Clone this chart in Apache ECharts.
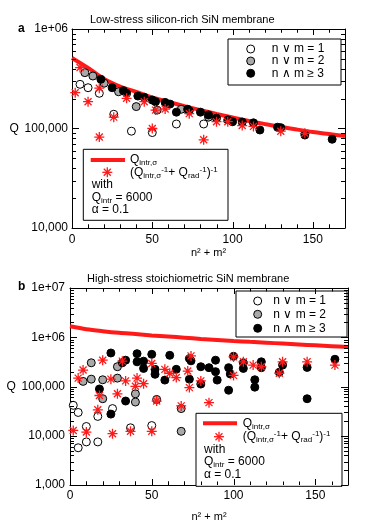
<!DOCTYPE html>
<html><head><meta charset="utf-8">
<script src="https://cdn.jsdelivr.net/npm/echarts@6/dist/echarts.min.js"></script>
<style>html,body{margin:0;padding:0;background:#fff}#c{width:366px;height:523px}</style>
</head><body><div id="c"></div>
<script>
// ---------- data (x = n^2 + m^2, y = Q) ----------
const X_MAJOR = [0, 50, 100, 150];
const X_MINOR = [10, 20, 30, 40, 60, 70, 80, 90, 110, 120, 130, 140, 160];
const Y_TOP_TICKS = [1e4, 1e5, 1e6];
const Y_TOP_LABELS = ['10,000', '100,000', '1e+06'];
const Y_BOT_TICKS = [1e3, 1e4, 1e5, 1e6, 1e7];
const Y_BOT_LABELS = ['1,000', '10,000', '100,000', '1e+06', '1e+07'];
const MINOR_MULT = [2, 3, 4, 5, 6, 7, 8, 9];

const topCurve = [[0,512000],[10,406000],[20,314000],[30,264000],[40,233000],[50,205000],[60,185000],[70,168000],[80,153000],[90,140000],[100,129000],[110,119000],[120,111000],[130,104000],[140,97700],[150,92200],[160,88000],[170,84000]];
const topOpen = [[5,278000],[10,257000],[17,226000],[26,139000],[37,94000],[50,91000],[65,111000],[82,111000]];
const topGray = [[8,364000],[13,337000],[20,285000],[29,234000],[40,166000],[53,153000],[68,156000],[85,130000]];
const topBlack = [[18,312000],[25,257000],[32,240000],[34,226000],[41,212000],[45,206000],[50,193000],[52,186000],[58,183000],[61,176000],[65,146000],[72,156000],[73,151000],[80,146000],[85,137000],[90,127000],[97,122000],[100,117000],[106,116000],[113,114000],[117,96600],[128,103000],[130,102000],[145,86000],[162,78000]];
const topStar = [[2,229000],[5,410000],[10,186000],[17,254000],[17,82000],[26,130000],[34,201000],[45,186000],[50,100000],[52,153000],[58,157000],[73,141000],[82,77000],[90,117000],[97,117000],[106,107000],[113,105000],[130,94000],[145,89500]];

const botCurve = [[0,1670000],[10,1460000],[20,1330000],[30,1230000],[40,1160000],[50,1090000],[60,1035000],[70,980000],[80,923000],[90,881000],[100,842000],[110,807000],[120,776000],[130,744000],[140,714000],[150,685000],[160,658000],[170,631000]];
const botOpen = [[2,41500],[5,29700],[17,24700],[26,35600],[10,15400],[37,14500],[50,16100],[10,7500],[5,5700],[17,7500]];
const botGray = [[13,303000],[8,127000],[13,141000],[20,137000],[29,252000],[29,148000],[20,56400],[40,71000],[40,48400],[53,54600],[68,35600],[68,12300]];
const botBlack = [[25,479000],[32,303000],[34,342000],[41,464000],[41,317000],[45,327000],[45,233000],[50,450000],[52,223000],[52,177000],[58,135000],[61,430000],[65,223000],[73,141000],[73,369000],[74,332000],[80,252000],[80,112000],[18,89000],[34,50700],[25,27500],[97,84000],[113,97000],[113,137000],[145,56400],[89,342000],[85,241000],[89,200000],[90,135000],[97,241000],[98,180000],[100,410000],[106,303000],[106,233000],[117,317000],[117,241000],[130,272000],[128,194000],[145,244000],[162,357000]];
const botStar = [[20,342000],[8,216000],[5,148000],[25,141000],[34,130000],[41,148000],[40,101000],[45,114000],[32,327000],[50,294000],[58,223000],[61,186000],[65,152000],[72,206000],[73,95000],[74,418000],[80,130000],[18,65600],[29,71000],[53,50700],[17,33600],[68,40400],[2,12800],[10,11900],[26,11000],[37,12300],[50,12300],[85,47000],[100,399000],[106,317000],[112,272000],[117,252000],[130,317000],[128,186000],[145,317000],[162,272000],[100,168000]];

// ---------- styling ----------
const FF = 'Liberation Sans, Arial, sans-serif';
const BLACK = '#000';
const RED = '#ff1a1a';
const GRAY = '#a9a9a9';
const STAR = 'path://M5,0L5,10M0,5L10,5M1.5,1.5L8.5,8.5M1.5,8.5L8.5,1.5';
const X_MIN = 0, X_MAX = 170;

function minorOf(ticks) {
  const out = [];
  for (let i = 0; i < ticks.length - 1; i++) MINOR_MULT.forEach(m => out.push(ticks[i] * m));
  return out;
}

function xAxes(grid, nameGap, margin) {
  const base = { gridIndex: grid, type: 'value', min: X_MIN, max: X_MAX, interval: 50, splitLine: { show: false }, axisTick: { show: false } };
  const line = { show: true, onZero: false, lineStyle: { color: BLACK, width: 1 } };
  return [
    Object.assign({}, base, { position: 'bottom', axisLine: line,
      axisLabel: { showMaxLabel: false, margin: margin, color: BLACK, fontSize: 12, fontFamily: FF,
        formatter: v => (X_MAJOR.indexOf(v) >= 0 ? String(v) : '') },
      name: 'n² + m²', nameLocation: 'middle', nameGap: nameGap,
      nameTextStyle: { color: BLACK, fontSize: 11, fontFamily: FF } }),
    Object.assign({}, base, { position: 'top', axisLine: line, axisLabel: { show: false } })
  ];
}

function yAxes(grid, min, max, ticks, labels, nameGap, margin) {
  const base = { gridIndex: grid, type: 'log', logBase: 10, min: min, max: max, splitLine: { show: false }, axisTick: { show: false } };
  const line = { show: true, onZero: false, lineStyle: { color: BLACK, width: 1 } };
  return [
    Object.assign({}, base, { position: 'left', axisLine: line,
      axisLabel: { margin: margin, color: BLACK, fontSize: 12, fontFamily: FF,
        formatter: v => { const i = ticks.findIndex(t => Math.abs(t - v) / t < 1e-6); return i >= 0 ? labels[i] : ''; } },
      name: 'Q', nameLocation: 'middle', nameRotate: 0, nameGap: nameGap,
      nameTextStyle: { color: BLACK, fontSize: 12, fontFamily: FF } }),
    Object.assign({}, base, { position: 'right', axisLine: line, axisLabel: { show: false } })
  ];
}

// tick list: [x, y, dx, dy] (base point in data units, direction in px)
function tickData(yMin, yMax, yTicks) {
  const data = [];
  X_MAJOR.forEach(v => { data.push([v, yMin, 0, -6]); data.push([v, yMax, 0, 6]); });
  X_MINOR.forEach(v => { data.push([v, yMin, 0, -3.5]); data.push([v, yMax, 0, 3.5]); });
  yTicks.forEach(v => { data.push([X_MIN, v, 7, 0]); data.push([X_MAX, v, -7, 0]); });
  minorOf(yTicks).forEach(v => { data.push([X_MIN, v, 4, 0]); data.push([X_MAX, v, -4, 0]); });
  return data;
}
function tickSeries(xi, yi, yMin, yMax, yTicks) {
  return {
    type: 'custom', xAxisIndex: xi, yAxisIndex: yi, data: tickData(yMin, yMax, yTicks), silent: true, z: 6, clip: false,
    renderItem: (params, api) => {
      const c = api.coord([api.value(0), api.value(1)]);
      const dx = api.value(2), dy = api.value(3);
      const x = Math.round(c[0]) + (dx === 0 ? 0.5 : 0);
      const y = Math.round(c[1]) + (dy === 0 ? 0.5 : 0);
      return { type: 'line', shape: { x1: x, y1: y, x2: x + dx, y2: y + dy }, style: { stroke: '#000', lineWidth: 1 } };
    }
  };
}

function panelSeries(xi, yi, curve, open, gray, black, star) {
  const sc = (data, fill) => ({ type: 'scatter', xAxisIndex: xi, yAxisIndex: yi, data: data, symbol: 'circle', symbolSize: 8,
    itemStyle: { color: fill, borderColor: BLACK, borderWidth: 1, opacity: 1 }, z: 3, emphasis: { disabled: true } });
  return [
    { type: 'line', xAxisIndex: xi, yAxisIndex: yi, data: curve, smooth: 0.3, showSymbol: false,
      lineStyle: { color: RED, width: 4 }, z: 2, silent: true },
    sc(open, '#fff'), sc(gray, GRAY), sc(black, BLACK),
    { type: 'scatter', xAxisIndex: xi, yAxisIndex: yi, data: star, symbol: STAR, symbolSize: 10,
      itemStyle: { color: 'transparent', borderColor: RED, borderWidth: 1.3, opacity: 1 }, z: 4, emphasis: { disabled: true } }
  ];
}

// ---------- legends (graphic) ----------
const rich = {
  n: { fontSize: 12, fontFamily: FF, fill: BLACK, lineHeight: 14 },
  sub: { fontSize: 8, fontFamily: FF, fill: BLACK, lineHeight: 8, verticalAlign: 'bottom' },
  sup: { fontSize: 8, fontFamily: FF, fill: BLACK, lineHeight: 8, verticalAlign: 'top' }
};
function txt(x, y, text, isRich) {
  const st = { text: text, x: x, y: y, fill: BLACK, font: '12px ' + FF, verticalAlign: 'middle', align: 'left' };
  if (isRich) st.rich = rich;
  return { type: 'text', style: st, z: 20 };
}
function starGlyph(cx, cy) {
  const segs = [[0, -5, 0, 5], [-5, 0, 5, 0], [-3.5, -3.5, 3.5, 3.5], [-3.5, 3.5, 3.5, -3.5]];
  return segs.map(s => ({ type: 'line', shape: { x1: cx + s[0], y1: cy + s[1], x2: cx + s[2], y2: cy + s[3] },
    style: { stroke: RED, lineWidth: 1.3 }, z: 20 }));
}
function symLegend(x, y, w, h, cx, ys, tx) {
  const fills = ['#fff', GRAY, BLACK];
  const labels = ['n ∨ m = 1', 'n ∨ m = 2', 'n ∧ m ≥ 3'];
  const els = [{ type: 'rect', shape: { x: x, y: y, width: w, height: h }, style: { fill: '#fff', stroke: BLACK, lineWidth: 1 }, z: 10 }];
  ys.forEach((yy, i) => {
    els.push({ type: 'circle', shape: { cx: cx, cy: yy, r: 4 }, style: { fill: fills[i], stroke: BLACK, lineWidth: 1 }, z: 20 });
    els.push(txt(tx, yy, labels[i], false));
  });
  return els;
}
function formulaLegend(x, y, w, h, lx1, lx2, ly, sx, sy, tx, wx, wy) {
  return [
    { type: 'rect', shape: { x: x, y: y, width: w, height: h }, style: { fill: '#fff', stroke: BLACK, lineWidth: 1 }, z: 10 },
    { type: 'line', shape: { x1: lx1, y1: ly, x2: lx2, y2: ly }, style: { stroke: RED, lineWidth: 4 }, z: 20 },
    txt(tx, ly, '{n|Q}{sub|intr,σ}', true),
    txt(tx, sy, '{n|(Q}{sub|intr,σ}{sup|-1}{n|+ Q}{sub|rad}{sup|-1}{n|)}{sup|-1}', true),
    txt(wx, wy[0], 'with', false),
    txt(wx, wy[1], '{n|Q}{sub|intr}{n| = 6000}', true),
    txt(wx, wy[2], 'α = 0.1', false)
  ].concat(starGlyph(sx, sy));
}

const legendGraphics = [].concat(
  symLegend(228, 39, 113, 46, 250.7, [49, 61, 73.3], 271.7),
  symLegend(236, 291, 111, 46, 257.7, [301, 314.3, 328.3], 273.3),
  formulaLegend(83.3, 149.3, 144.7, 71, 90.7, 125, 160, 107.3, 172.3, 130, 91.7, [184.3, 197.3, 209.8]),
  formulaLegend(196, 413.3, 146, 73, 203, 237, 423.3, 219, 436.7, 242.7, 204, [449.3, 461.7, 475])
);

const option = {
  animation: false,
  textStyle: { fontFamily: FF },
  title: [
    { text: 'Low-stress silicon-rich SiN membrane', left: 85, top: 9, textStyle: { fontSize: 11, fontWeight: 'normal', color: BLACK, fontFamily: FF } },
    { text: 'High-stress stoichiometric SiN membrane', left: 82, top: 268, textStyle: { fontSize: 11, fontWeight: 'normal', color: BLACK, fontFamily: FF } },
    { text: 'a', left: 13, top: 18, textStyle: { fontSize: 12, fontWeight: 'bold', color: BLACK, fontFamily: FF } },
    { text: 'b', left: 13, top: 276, textStyle: { fontSize: 12, fontWeight: 'bold', color: BLACK, fontFamily: FF } }
  ],
  grid: [
    { left: 72, top: 29, width: 273, height: 199 },
    { left: 70, top: 288, width: 278, height: 201 }
  ],
  xAxis: xAxes(0, 19, 6).concat(xAxes(1, 26, 5)),
  yAxis: yAxes(0, 1e4, 1e6, Y_TOP_TICKS, Y_TOP_LABELS, 40, 4).concat(yAxes(1, 1e3, 1e7, Y_BOT_TICKS, Y_BOT_LABELS, 38, 5)),
  series: [tickSeries(0, 0, 1e4, 1e6, Y_TOP_TICKS), tickSeries(2, 2, 1e3, 1e7, Y_BOT_TICKS)]
    .concat(panelSeries(0, 0, topCurve, topOpen, topGray, topBlack, topStar))
    .concat(panelSeries(2, 2, botCurve, botOpen, botGray, botBlack, botStar)),
  graphic: legendGraphics
};
const chart = echarts.init(document.getElementById('c'), null, { renderer: 'canvas' });
chart.setOption(option);

// second pass: tick marks as graphics placed through the axes' own scales (backup for the custom series)
function tickGraphics(xi, yi, yMin, yMax, yTicks) {
  const els = [];
  tickData(yMin, yMax, yTicks).forEach(t => {
    const p = chart.convertToPixel({ xAxisIndex: xi, yAxisIndex: yi }, [t[0], t[1]]);
    if (!p || !isFinite(p[0]) || !isFinite(p[1])) return;
    const x = Math.round(p[0]) + (t[2] === 0 ? 0.5 : 0);
    const y = Math.round(p[1]) + (t[3] === 0 ? 0.5 : 0);
    els.push({ type: 'line', silent: true, shape: { x1: x, y1: y, x2: x + t[2], y2: y + t[3] }, style: { stroke: '#000', lineWidth: 1 }, z: 25 });
  });
  return els;
}
try {
  chart.setOption({ graphic: legendGraphics.concat(tickGraphics(0, 0, 1e4, 1e6, Y_TOP_TICKS), tickGraphics(2, 2, 1e3, 1e7, Y_BOT_TICKS)) });
} catch (e) {}
</script></body></html>
